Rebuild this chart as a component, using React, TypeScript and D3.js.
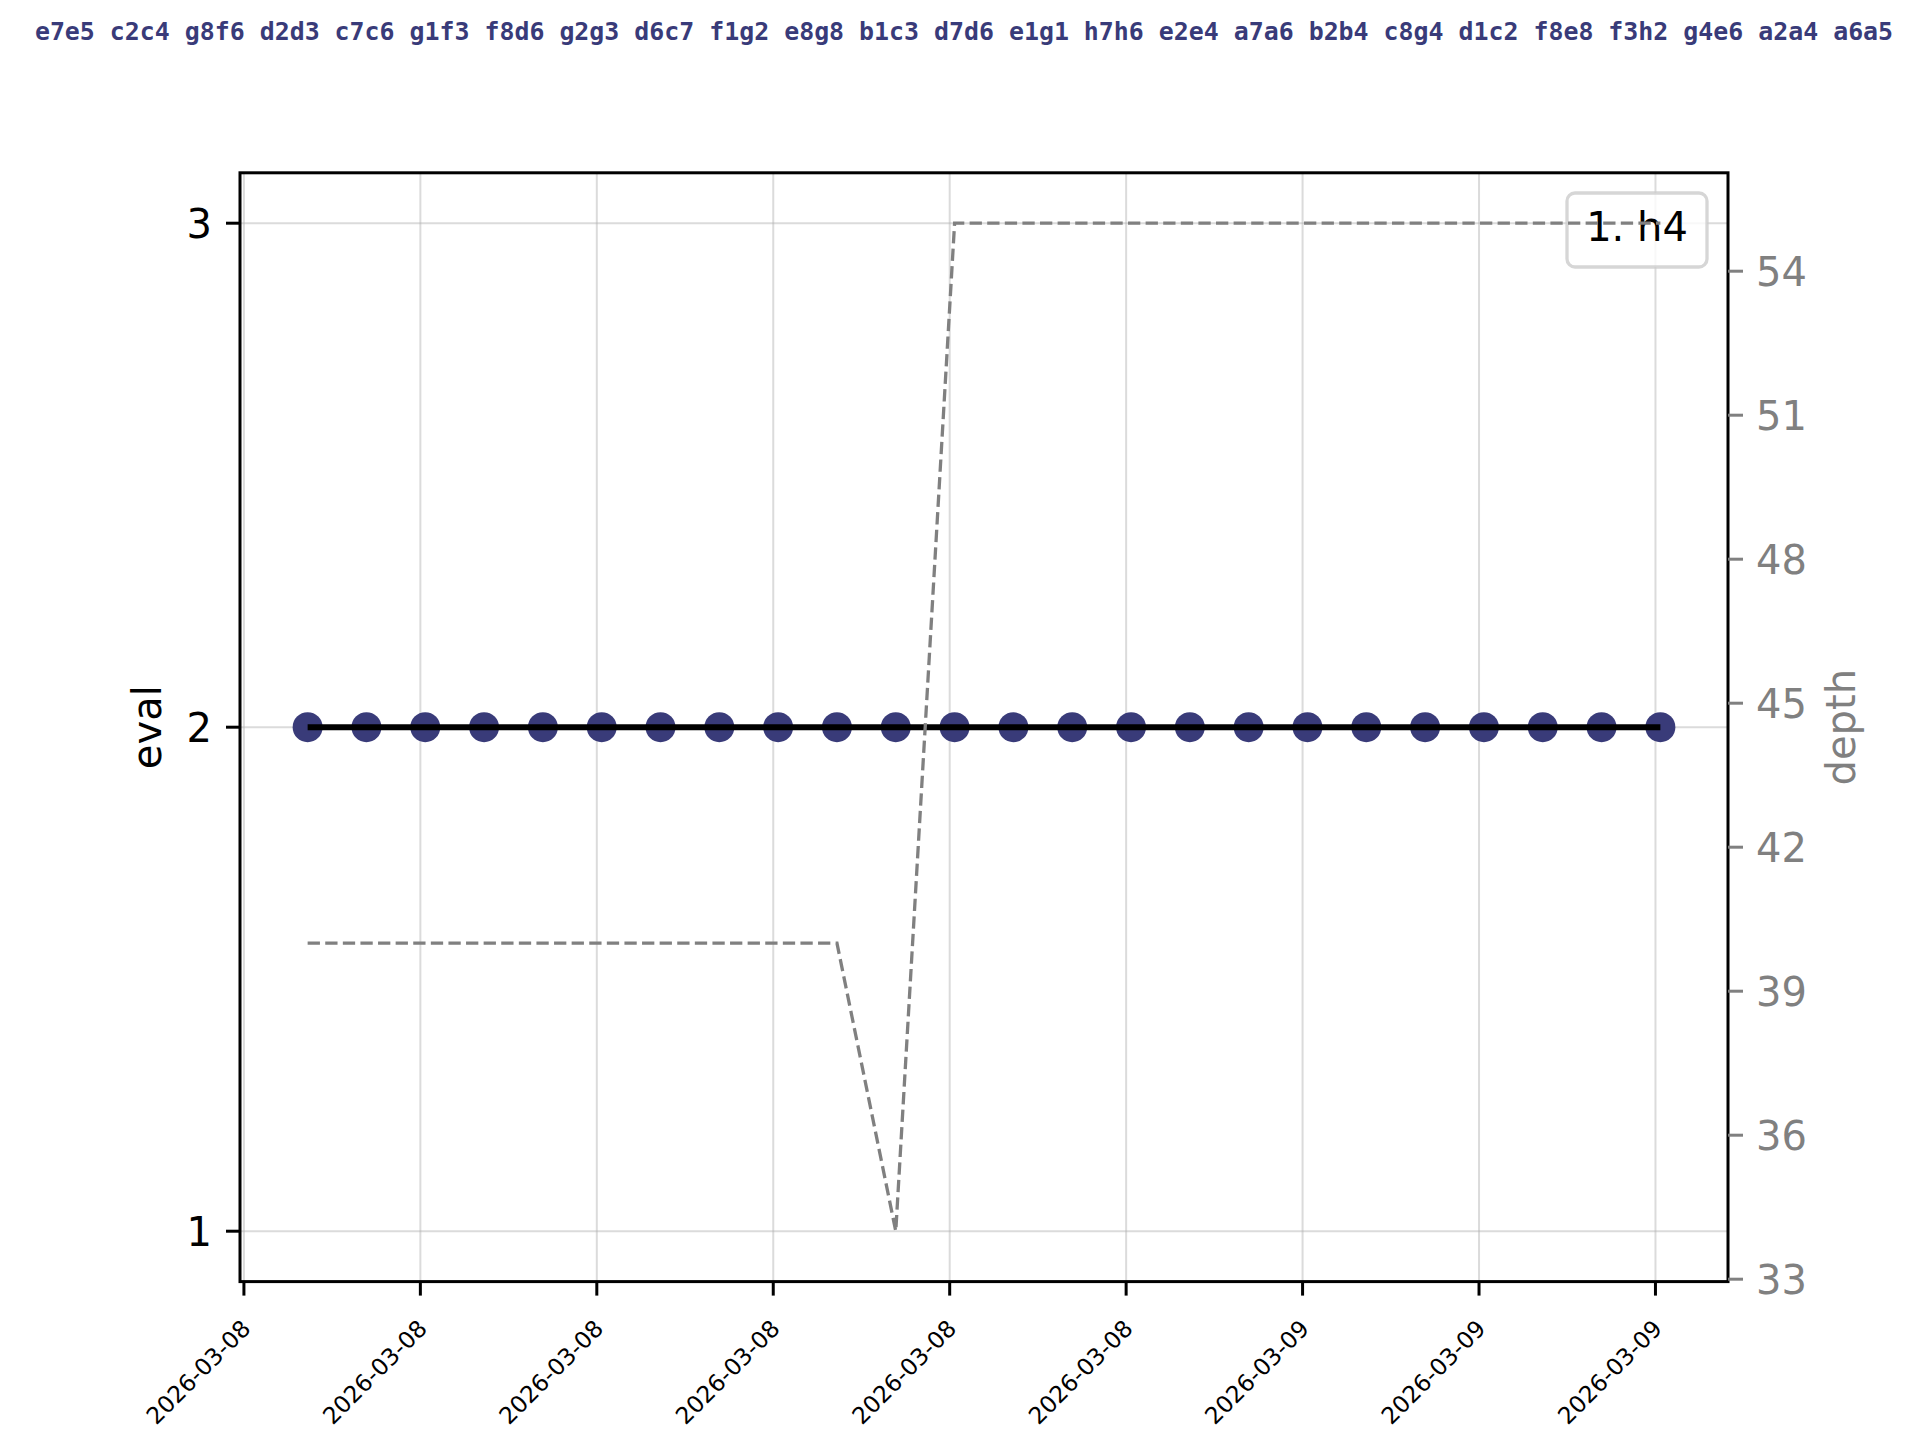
import React from "react";
import * as d3 from "d3";

const moves = [
  "e7e5", "c2c4", "g8f6", "d2d3", "c7c6", "g1f3", "f8d6", "g2g3", "d6c7", "f1g2", "e8g8", "b1c3",
  "d7d6", "e1g1", "h7h6", "e2e4", "a7a6", "b2b4", "c8g4", "d1c2", "f8e8", "f3h2", "g4e6", "a2a4", "a6a5",
];

const times = [
  "2026-03-08T07:05:00Z", "2026-03-08T08:05:00Z", "2026-03-08T09:05:00Z", "2026-03-08T10:05:00Z",
  "2026-03-08T11:05:00Z", "2026-03-08T12:05:00Z", "2026-03-08T13:05:00Z", "2026-03-08T14:05:00Z",
  "2026-03-08T15:05:00Z", "2026-03-08T16:05:00Z", "2026-03-08T17:05:00Z", "2026-03-08T18:05:00Z",
  "2026-03-08T19:05:00Z", "2026-03-08T20:05:00Z", "2026-03-08T21:05:00Z", "2026-03-08T22:05:00Z",
  "2026-03-08T23:05:00Z", "2026-03-09T00:05:00Z", "2026-03-09T01:05:00Z", "2026-03-09T02:05:00Z",
  "2026-03-09T03:05:00Z", "2026-03-09T04:05:00Z", "2026-03-09T05:05:00Z", "2026-03-09T06:05:00Z",
];

const evals = [2, 2, 2, 2, 2, 2, 2, 2, 2, 2, 2, 2, 2, 2, 2, 2, 2, 2, 2, 2, 2, 2, 2, 2];
const depths = [40, 40, 40, 40, 40, 40, 40, 40, 40, 40, 34, 55, 55, 55, 55, 55, 55, 55, 55, 55, 55, 55, 55, 55];

const evalTicks = [1, 2, 3];
const depthTicks = [33, 36, 39, 42, 45, 48, 51, 54];
const legendLabel = "1. h4";
const evalLabel = "eval";
const depthLabel = "depth";

const W = 1920;
const H = 1440;
const L = 240;
const R = 1728;
const T = 172.8;
const B = 1281.6;
const NAVY = "#393b79";
const FONT = "'DejaVu Sans', sans-serif";

function padDomain(lo: number, hi: number): [number, number] {
  const span = hi - lo;
  return [lo - span * 0.05, hi + span * 0.05];
}

export default function App() {
  const dates = times.map((t) => new Date(t));
  const t0 = +dates[0];
  const t1 = +dates[dates.length - 1];
  const [xd0, xd1] = padDomain(t0, t1);
  const x = d3.scaleUtc().domain([new Date(xd0), new Date(xd1)]).range([L, R]);

  const yEval = d3
    .scaleLinear()
    .domain(padDomain(d3.min(evalTicks)!, d3.max(evalTicks)!))
    .range([B, T]);
  const yDepth = d3
    .scaleLinear()
    .domain(padDomain(d3.min(depths)!, d3.max(depths)!))
    .range([B, T]);

  const xTicks = x.ticks(d3.utcHour.every(3)!).filter((d) => x(d) >= L - 0.5 && x(d) <= R + 0.5);
  const fmt = d3.utcFormat("%Y-%m-%d");

  const evalLine = d3
    .line<number>()
    .x((_, i) => x(dates[i]))
    .y((d) => yEval(d));
  const depthLine = d3
    .line<number>()
    .x((_, i) => x(dates[i]))
    .y((d) => yDepth(d));

  const legX0 = 1567;
  const legX1 = 1707;
  const legY0 = 193;
  const legY1 = 267;

  return (
    <svg
      width={W}
      height={H}
      viewBox={`0 0 ${W} ${H}`}
      style={{ position: "absolute", left: 0, top: 0, background: "#fff" }}
    >
      <rect x={0} y={0} width={W} height={H} fill="#fff" />
      {/* title */}
      <text
        x={964}
        y={40}
        textAnchor="middle"
        fontFamily="'DejaVu Sans Mono', monospace"
        fontWeight="bold"
        fontSize={24.9}
        fill={NAVY}
      >
        {moves.join(" ")}
      </text>

      {/* grid */}
      <g stroke="#b0b0b0" strokeOpacity={0.45} strokeWidth={2}>
        {xTicks.map((d, i) => (
          <line key={"gx" + i} x1={x(d)} x2={x(d)} y1={T} y2={B} />
        ))}
        {evalTicks.map((v, i) => (
          <line key={"gy" + i} x1={L} x2={R} y1={yEval(v)} y2={yEval(v)} />
        ))}
      </g>

      {/* eval points and line */}
      <g fill={NAVY}>
        {evals.map((v, i) => (
          <circle key={"c" + i} cx={x(dates[i])} cy={yEval(v)} r={15} />
        ))}
      </g>
      <path d={evalLine(evals) || ""} fill="none" stroke="#000" strokeWidth={6} />

      {/* legend */}
      <rect
        x={legX0}
        y={legY0}
        width={legX1 - legX0}
        height={legY1 - legY0}
        rx={8}
        ry={8}
        fill="#fff"
        fillOpacity={0.8}
        stroke="#cccccc"
        strokeOpacity={0.8}
        strokeWidth={3.3}
      />
      <text x={(legX0 + legX1) / 2} y={241} textAnchor="middle" fontFamily={FONT} fontSize={40} fill="#000">
        {legendLabel}
      </text>

      {/* depth dashed line */}
      <path
        d={depthLine(depths) || ""}
        fill="none"
        stroke="#808080"
        strokeWidth={3.3}
        strokeDasharray="12.3 5.3"
      />

      {/* spines */}
      <rect x={L} y={T} width={R - L} height={B - T} fill="none" stroke="#000" strokeWidth={3} />

      {/* x ticks */}
      {xTicks.map((d, i) => (
        <g key={"xt" + i}>
          <line x1={x(d)} x2={x(d)} y1={B} y2={B + 14} stroke="#000" strokeWidth={3} />
          <text
            transform={`translate(${x(d) + 8},${1330}) rotate(-45)`}
            textAnchor="end"
            fontFamily={FONT}
            fontSize={23.3}
            fill="#000"
          >
            {fmt(d)}
          </text>
        </g>
      ))}

      {/* left ticks */}
      {evalTicks.map((v, i) => (
        <g key={"yt" + i}>
          <line x1={L - 14} x2={L} y1={yEval(v)} y2={yEval(v)} stroke="#000" strokeWidth={3} />
          <text x={212} y={yEval(v)} dy="0.36em" textAnchor="end" fontFamily={FONT} fontSize={40} fill="#000">
            {v}
          </text>
        </g>
      ))}
      <text
        transform={`translate(161,${(T + B) / 2}) rotate(-90)`}
        textAnchor="middle"
        fontFamily={FONT}
        fontSize={40}
        fill="#000"
      >
        {evalLabel}
      </text>

      {/* right ticks */}
      {depthTicks.map((v, i) => (
        <g key={"dt" + i}>
          <line x1={R} x2={R + 15} y1={yDepth(v)} y2={yDepth(v)} stroke="#808080" strokeWidth={3} />
          <text x={1756} y={yDepth(v)} dy="0.36em" textAnchor="start" fontFamily={FONT} fontSize={40} fill="#808080">
            {v}
          </text>
        </g>
      ))}
      <text
        transform={`translate(1855,${(T + B) / 2}) rotate(-90)`}
        textAnchor="middle"
        fontFamily={FONT}
        fontSize={40}
        fill="#808080"
      >
        {depthLabel}
      </text>
    </svg>
  );
}
